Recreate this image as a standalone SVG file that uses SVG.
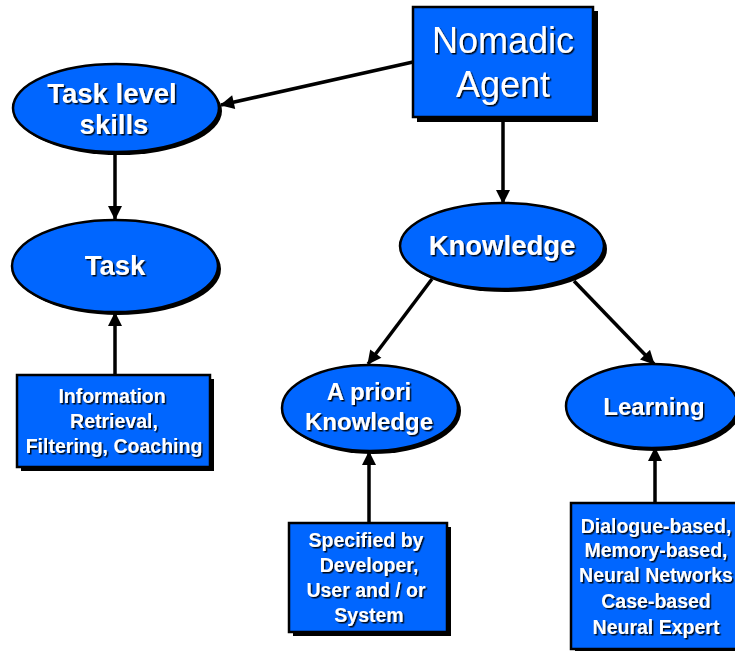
<svg xmlns="http://www.w3.org/2000/svg" width="735" height="651" viewBox="0 0 735 651">
  <defs>
    <style>
      .shape { fill: #0066ff; stroke: #000; stroke-width: 2.5; }
      .shadow { fill: #000; }
      .t { fill: #fff; font-family: "Liberation Sans", Arial, sans-serif; text-anchor: middle; filter: url(#ts); }
      .eb { font-weight: bold; }
      .bx { font-weight: bold; font-size: 19.5px; }
      .conn { stroke: #000; stroke-width: 3.5; fill: none; marker-end: url(#arrow); }
    </style>
    <filter id="ts" x="-10%" y="-20%" width="120%" height="150%">
      <feDropShadow dx="1.5" dy="1.5" stdDeviation="0.4" flood-color="#000" flood-opacity="0.9"/>
    </filter>
    <marker id="arrow" viewBox="0 0 14 14" refX="13" refY="7" markerWidth="15" markerHeight="14" markerUnits="userSpaceOnUse" orient="auto">
      <path d="M0,0 L14,7 L0,14 z" fill="#000"/>
    </marker>
  </defs>
  <rect width="735" height="651" fill="#fff"/>

  <g id="connectors">
    <line class="conn" x1="413" y1="62" x2="221" y2="105"/>
    <line class="conn" x1="503" y1="117" x2="503" y2="203"/>
    <line class="conn" x1="115" y1="152" x2="115" y2="219"/>
    <line class="conn" x1="115" y1="375" x2="115" y2="313"/>
    <line class="conn" x1="432" y1="279" x2="368" y2="364"/>
    <line class="conn" x1="574" y1="281" x2="654" y2="364"/>
    <line class="conn" x1="369" y1="523" x2="369" y2="452"/>
    <line class="conn" x1="655" y1="503" x2="655" y2="448"/>
  </g>

  <g id="nomadic-agent">
    <rect class="shadow" x="417" y="11" width="181" height="111"/>
    <rect class="shape" x="413" y="7" width="180" height="110"/>
    <text class="t" x="503" y="53" font-size="36">Nomadic</text>
    <text class="t" x="503" y="97" font-size="36">Agent</text>
  </g>

  <g id="task-level-skills">
    <ellipse class="shadow" cx="119" cy="111" rx="103" ry="44"/>
    <ellipse class="shape" cx="116" cy="108" rx="103" ry="44"/>
    <text class="t eb" x="112" y="103" font-size="27.5">Task level</text>
    <text class="t eb" x="114" y="134" font-size="27.5">skills</text>
  </g>

  <g id="task">
    <ellipse class="shadow" cx="118" cy="269" rx="103" ry="46"/>
    <ellipse class="shape" cx="115" cy="266" rx="103" ry="46"/>
    <text class="t eb" x="115" y="275" font-size="27.5">Task</text>
  </g>

  <g id="information">
    <rect class="shadow" x="21" y="379" width="193" height="92"/>
    <rect class="shape" x="17" y="375" width="193" height="92"/>
    <text class="t bx" x="112" y="403">Information</text>
    <text class="t bx" x="114" y="428">Retrieval,</text>
    <text class="t bx" x="114" y="453">Filtering, Coaching</text>
  </g>

  <g id="knowledge">
    <ellipse class="shadow" cx="505" cy="249" rx="102" ry="43"/>
    <ellipse class="shape" cx="502" cy="246" rx="102" ry="43"/>
    <text class="t eb" x="502" y="255" font-size="27.5">Knowledge</text>
  </g>

  <g id="a-priori-knowledge">
    <ellipse class="shadow" cx="373" cy="411" rx="88" ry="43"/>
    <ellipse class="shape" cx="370" cy="408" rx="88" ry="43"/>
    <text class="t eb" x="369" y="400" font-size="24">A priori</text>
    <text class="t eb" x="369" y="430" font-size="24">Knowledge</text>
  </g>

  <g id="learning">
    <ellipse class="shadow" cx="655" cy="409" rx="86" ry="42"/>
    <ellipse class="shape" cx="652" cy="406" rx="86" ry="42"/>
    <text class="t eb" x="654" y="415" font-size="24">Learning</text>
  </g>

  <g id="specified">
    <rect class="shadow" x="293" y="527" width="158" height="109"/>
    <rect class="shape" x="289" y="523" width="158" height="109"/>
    <text class="t bx" x="366" y="547">Specified by</text>
    <text class="t bx" x="369" y="572">Developer,</text>
    <text class="t bx" x="366" y="597">User and / or</text>
    <text class="t bx" x="369" y="622">System</text>
  </g>

  <g id="learning-methods">
    <rect class="shadow" x="575" y="507" width="170" height="146"/>
    <rect class="shape" x="571" y="503" width="170" height="146"/>
    <text class="t bx" x="656" y="533">Dialogue-based,</text>
    <text class="t bx" x="656" y="557">Memory-based,</text>
    <text class="t bx" x="656" y="582">Neural Networks</text>
    <text class="t bx" x="656" y="608">Case-based</text>
    <text class="t bx" x="656" y="634">Neural Expert</text>
  </g>
</svg>
